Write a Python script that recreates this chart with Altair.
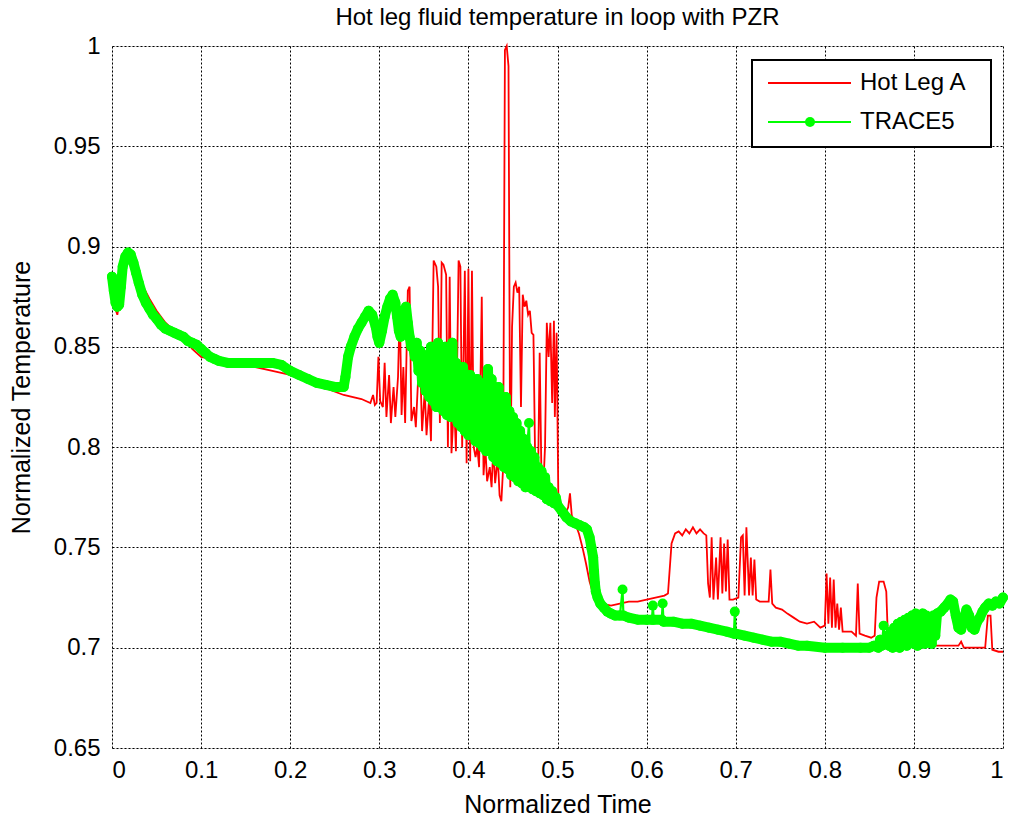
import altair as alt
import pandas as pd

# ---------------- data ----------------
red_t = [0.000, 0.003, 0.006, 0.009, 0.012, 0.016, 0.022, 0.028, 0.035, 0.042,
         0.050, 0.060, 0.070, 0.080, 0.090, 0.100, 0.120, 0.150, 0.180, 0.200,
         0.230, 0.260, 0.280, 0.290, 0.293, 0.295, 0.297, 0.299, 0.301, 0.304,
         0.306, 0.308, 0.311, 0.313, 0.316, 0.318, 0.321, 0.323, 0.325, 0.327,
         0.329, 0.332, 0.334, 0.336, 0.339, 0.341, 0.344, 0.346, 0.348, 0.351,
         0.353, 0.356, 0.358, 0.361, 0.364, 0.366, 0.368, 0.370, 0.372, 0.375,
         0.377, 0.379, 0.381, 0.384, 0.386, 0.389, 0.391, 0.393, 0.396, 0.398,
         0.400, 0.402, 0.404, 0.406, 0.408, 0.410, 0.412, 0.415, 0.417, 0.419,
         0.421, 0.424, 0.426, 0.428, 0.430, 0.433, 0.435, 0.437, 0.439, 0.441,
         0.443, 0.445, 0.447, 0.449, 0.451, 0.453, 0.455, 0.457, 0.459, 0.461,
         0.463, 0.465, 0.467, 0.469, 0.471, 0.473, 0.475, 0.478, 0.480, 0.482,
         0.484, 0.486, 0.488, 0.490, 0.492, 0.494, 0.496, 0.497, 0.499, 0.501,
         0.503, 0.508, 0.512, 0.514, 0.516, 0.520, 0.524, 0.528, 0.532, 0.536,
         0.540, 0.545, 0.550, 0.560, 0.570, 0.580, 0.590, 0.600, 0.610, 0.620,
         0.624, 0.628, 0.632, 0.636, 0.640, 0.644, 0.648, 0.652, 0.656, 0.660,
         0.664, 0.667, 0.669, 0.671, 0.673, 0.675, 0.678, 0.680, 0.683, 0.685,
         0.687, 0.689, 0.691, 0.693, 0.697, 0.703, 0.706, 0.708, 0.710, 0.712,
         0.715, 0.717, 0.719, 0.721, 0.723, 0.727, 0.733, 0.737, 0.739, 0.741,
         0.745, 0.752, 0.758, 0.765, 0.772, 0.780, 0.788, 0.795, 0.800, 0.802,
         0.804, 0.806, 0.808, 0.810, 0.812, 0.814, 0.816, 0.818, 0.820, 0.830,
         0.835, 0.837, 0.839, 0.845, 0.852, 0.856, 0.858, 0.861, 0.866, 0.869,
         0.871, 0.880, 0.900, 0.920, 0.950, 0.953, 0.956, 0.970, 0.980, 0.983,
         0.986, 0.988, 0.995, 1.000]
red_T = [0.880, 0.870, 0.866, 0.875, 0.895, 0.898, 0.896, 0.888, 0.880, 0.874,
         0.868, 0.862, 0.858, 0.855, 0.849, 0.845, 0.843, 0.841, 0.838, 0.836,
         0.831, 0.826, 0.824, 0.822, 0.826, 0.821, 0.822, 0.845, 0.823, 0.820,
         0.842, 0.815, 0.836, 0.812, 0.830, 0.815, 0.835, 0.870, 0.816, 0.840,
         0.812, 0.878, 0.880, 0.813, 0.820, 0.810, 0.838, 0.840, 0.808, 0.828,
         0.806, 0.825, 0.803, 0.893, 0.890, 0.880, 0.812, 0.892, 0.891, 0.886,
         0.800, 0.885, 0.797, 0.822, 0.798, 0.893, 0.890, 0.800, 0.888, 0.792,
         0.889, 0.793, 0.888, 0.800, 0.795, 0.800, 0.790, 0.875, 0.786, 0.800,
         0.783, 0.790, 0.780, 0.800, 0.782, 0.795, 0.776, 0.773, 0.790, 0.998,
         1.000, 0.990, 0.780, 0.860, 0.880, 0.882, 0.877, 0.880, 0.820, 0.876,
         0.870, 0.873, 0.866, 0.868, 0.857, 0.856, 0.790, 0.780, 0.847, 0.785,
         0.780, 0.800, 0.862, 0.845, 0.862, 0.822, 0.863, 0.815, 0.857, 0.772,
         0.768, 0.766, 0.770, 0.777, 0.766, 0.762, 0.757, 0.750, 0.742, 0.733,
         0.727, 0.723, 0.722, 0.721, 0.722, 0.723, 0.723, 0.724, 0.725, 0.726,
         0.727, 0.752, 0.757, 0.758, 0.756, 0.759, 0.757, 0.760, 0.757, 0.759,
         0.757, 0.756, 0.732, 0.725, 0.755, 0.724, 0.745, 0.724, 0.755, 0.727,
         0.752, 0.728, 0.754, 0.724, 0.724, 0.725, 0.755, 0.756, 0.726, 0.760,
         0.726, 0.745, 0.726, 0.744, 0.724, 0.723, 0.723, 0.723, 0.739, 0.722,
         0.720, 0.719, 0.717, 0.715, 0.713, 0.712, 0.713, 0.710, 0.711, 0.737,
         0.712, 0.735, 0.710, 0.734, 0.710, 0.722, 0.709, 0.720, 0.708, 0.708,
         0.706, 0.732, 0.707, 0.706, 0.705, 0.706, 0.725, 0.733, 0.733, 0.728,
         0.703, 0.702, 0.701, 0.701, 0.701, 0.703, 0.700, 0.700, 0.700, 0.716,
         0.716, 0.699, 0.698, 0.698]

green_t = [0.000, 0.002, 0.004, 0.006, 0.008, 0.010, 0.012, 0.015, 0.018, 0.021,
           0.024, 0.027, 0.030, 0.034, 0.038, 0.042, 0.046, 0.050, 0.055, 0.060,
           0.065, 0.070, 0.075, 0.080, 0.085, 0.090, 0.095, 0.100, 0.105, 0.110,
           0.115, 0.120, 0.130, 0.140, 0.150, 0.160, 0.170, 0.180, 0.190, 0.200,
           0.210, 0.220, 0.230, 0.240, 0.250, 0.255, 0.260, 0.262, 0.265, 0.268,
           0.272, 0.276, 0.280, 0.284, 0.288, 0.292, 0.296, 0.298, 0.300, 0.303,
           0.306, 0.309, 0.312, 0.315, 0.318, 0.320, 0.322, 0.324, 0.326, 0.328,
           0.330, 0.332, 0.334, 0.336, 0.338, 0.340, 0.342, 0.344, 0.346, 0.348,
           0.350, 0.352, 0.354, 0.356, 0.358, 0.360, 0.362, 0.364, 0.366, 0.368,
           0.370, 0.372, 0.374, 0.376, 0.378, 0.380, 0.382, 0.384, 0.386, 0.388,
           0.390, 0.392, 0.394, 0.396, 0.398, 0.400, 0.402, 0.404, 0.406, 0.408,
           0.410, 0.412, 0.414, 0.416, 0.418, 0.420, 0.422, 0.424, 0.426, 0.428,
           0.430, 0.432, 0.434, 0.436, 0.438, 0.440, 0.442, 0.444, 0.446, 0.448,
           0.450, 0.452, 0.454, 0.456, 0.458, 0.460, 0.462, 0.464, 0.466, 0.468,
           0.469, 0.470, 0.472, 0.474, 0.476, 0.478, 0.480, 0.482, 0.484, 0.486,
           0.488, 0.490, 0.492, 0.494, 0.496, 0.498, 0.500, 0.505, 0.510, 0.515,
           0.520, 0.525, 0.530, 0.533, 0.536, 0.538, 0.540, 0.541, 0.542, 0.543,
           0.545, 0.548, 0.552, 0.556, 0.560, 0.565, 0.570, 0.573, 0.574, 0.580,
           0.590, 0.600, 0.606, 0.607, 0.608, 0.617, 0.618, 0.619, 0.630, 0.640,
           0.650, 0.660, 0.670, 0.680, 0.690, 0.698, 0.699, 0.700, 0.710, 0.720,
           0.730, 0.740, 0.750, 0.760, 0.770, 0.780, 0.800, 0.820, 0.840, 0.850,
           0.855, 0.860, 0.862, 0.864, 0.866, 0.868, 0.870, 0.872, 0.874, 0.876,
           0.878, 0.880, 0.882, 0.884, 0.886, 0.888, 0.890, 0.892, 0.894, 0.896,
           0.898, 0.900, 0.902, 0.904, 0.906, 0.908, 0.910, 0.912, 0.914, 0.916,
           0.918, 0.920, 0.922, 0.924, 0.926, 0.930, 0.934, 0.938, 0.941, 0.944,
           0.947, 0.950, 0.953, 0.956, 0.959, 0.962, 0.965, 0.968, 0.971, 0.974,
           0.977, 0.980, 0.984, 0.988, 0.992, 0.996, 1.000]
green_T = [0.885, 0.878, 0.872, 0.870, 0.871, 0.880, 0.890, 0.895, 0.897, 0.896,
           0.892, 0.887, 0.882, 0.876, 0.872, 0.869, 0.866, 0.864, 0.861, 0.859,
           0.858, 0.857, 0.856, 0.855, 0.853, 0.852, 0.851, 0.849, 0.847, 0.845,
           0.844, 0.843, 0.842, 0.842, 0.842, 0.842, 0.842, 0.842, 0.841, 0.838,
           0.836, 0.834, 0.832, 0.831, 0.830, 0.830, 0.830, 0.835, 0.845, 0.850,
           0.855, 0.859, 0.862, 0.865, 0.868, 0.866, 0.860, 0.855, 0.852, 0.858,
           0.865, 0.870, 0.874, 0.876, 0.872, 0.865, 0.858, 0.855, 0.860, 0.868,
           0.870, 0.862, 0.855, 0.850, 0.850, 0.845, 0.852, 0.838, 0.848, 0.832,
           0.846, 0.828, 0.842, 0.825, 0.850, 0.823, 0.840, 0.820, 0.852, 0.822,
           0.845, 0.818, 0.850, 0.816, 0.838, 0.815, 0.852, 0.818, 0.842, 0.812,
           0.836, 0.810, 0.840, 0.808, 0.832, 0.806, 0.836, 0.808, 0.830, 0.803,
           0.834, 0.802, 0.826, 0.800, 0.832, 0.798, 0.839, 0.800, 0.834, 0.795,
           0.826, 0.793, 0.830, 0.792, 0.822, 0.790, 0.825, 0.789, 0.818, 0.786,
           0.815, 0.785, 0.812, 0.783, 0.808, 0.782, 0.804, 0.780, 0.800, 0.812,
           0.796, 0.798, 0.779, 0.795, 0.778, 0.790, 0.777, 0.788, 0.776, 0.785,
           0.774, 0.780, 0.773, 0.778, 0.772, 0.775, 0.771, 0.768, 0.765, 0.763,
           0.762, 0.761, 0.760, 0.759, 0.755, 0.750, 0.745, 0.738, 0.732, 0.728,
           0.725, 0.722, 0.720, 0.718, 0.717, 0.716, 0.716, 0.729, 0.716, 0.715,
           0.714, 0.714, 0.714, 0.721, 0.714, 0.714, 0.722, 0.713, 0.713, 0.712,
           0.712, 0.711, 0.710, 0.709, 0.708, 0.707, 0.718, 0.707, 0.706, 0.705,
           0.704, 0.703, 0.703, 0.702, 0.701, 0.701, 0.700, 0.700, 0.700, 0.700,
           0.701, 0.700, 0.704, 0.701, 0.711, 0.702, 0.706, 0.701, 0.708, 0.700,
           0.710, 0.702, 0.712, 0.700, 0.713, 0.702, 0.714, 0.701, 0.715, 0.703,
           0.716, 0.702, 0.717, 0.701, 0.716, 0.703, 0.717, 0.702, 0.716, 0.704,
           0.715, 0.702, 0.716, 0.706, 0.717, 0.718, 0.720, 0.722, 0.724, 0.723,
           0.716, 0.710, 0.709, 0.714, 0.719, 0.716, 0.710, 0.709, 0.713, 0.715,
           0.718, 0.720, 0.722, 0.721, 0.723, 0.722, 0.725]
# isolated TRACE5 samples that stand off the main band on thin stems
green_stem_t = [0.468, 0.573, 0.607, 0.618, 0.699, 0.866]

x_ticks = [0, 0.1, 0.2, 0.3, 0.4, 0.5, 0.6, 0.7, 0.8, 0.9, 1]
y_ticks = [0.65, 0.7, 0.75, 0.8, 0.85, 0.9, 0.95, 1]
series_names = ["Hot Leg A", "TRACE5"]
series_colors = ["#ff0000", "#00ff00"]

# ---------------- chart ----------------
FONT = "Liberation Sans"
W, H = 891, 702

red_df = pd.DataFrame({"t": red_t, "T": red_T, "order": range(len(red_t))})
green_df = pd.DataFrame({"t": green_t, "T": green_T, "order": range(len(green_t))})
green_df["stem"] = green_df["t"].isin(green_stem_t)
band_df = green_df[~green_df["stem"]]

xs = alt.Scale(domain=[0, 1], nice=False, zero=False)
ys = alt.Scale(domain=[0.65, 1], nice=False, zero=False)

x_axis = alt.Axis(values=x_ticks, format="~g", title="Normalized Time",
                  grid=True, gridColor="black", gridDash=[2, 2], gridWidth=1,
                  gridOpacity=1, domain=False, ticks=False, labelPadding=10,
                  labelFontSize=24, labelFont=FONT, labelColor="black",
                  titleFont=FONT, titleFontSize=25, titleFontWeight="normal",
                  titleColor="black", titlePadding=10)
y_axis = alt.Axis(values=y_ticks, format="~g", title="Normalized Temperature",
                  grid=True, gridColor="black", gridDash=[2, 2], gridWidth=1,
                  gridOpacity=1, domain=False, ticks=False, labelPadding=12,
                  labelFontSize=24, labelFont=FONT, labelColor="black",
                  titleFont=FONT, titleFontSize=25, titleFontWeight="normal",
                  titleColor="black", titlePadding=19)

red_line = alt.Chart(red_df).mark_line(color=series_colors[0], strokeWidth=1.8).encode(
    x=alt.X("t:Q", scale=xs, axis=x_axis),
    y=alt.Y("T:Q", scale=ys, axis=y_axis),
    order="order:Q",
)

# dense TRACE5 markers merge into a solid band: drawn as a wide round-capped stroke
green_band = alt.Chart(band_df).mark_line(
    color=series_colors[1], strokeWidth=10, strokeCap="round", strokeJoin="round").encode(
    x=alt.X("t:Q", scale=xs),
    y=alt.Y("T:Q", scale=ys),
    order="order:Q",
)
green_line = alt.Chart(green_df).mark_line(color=series_colors[1], strokeWidth=2.2).encode(
    x=alt.X("t:Q", scale=xs),
    y=alt.Y("T:Q", scale=ys),
    order="order:Q",
)
green_pts = alt.Chart(green_df).mark_circle(color=series_colors[1], size=100, opacity=1).encode(
    x=alt.X("t:Q", scale=xs),
    y=alt.Y("T:Q", scale=ys),
)

# legend box (inside the top-right of the plot, as in the reference)
leg_df = pd.DataFrame({"name": series_names, "color": series_colors, "row": [0, 1]})
box = alt.Chart(pd.DataFrame({"a": [0]})).mark_rect(
    fill="white", stroke="black", strokeWidth=2).encode(
    x=alt.value(640), x2=alt.value(879), y=alt.value(14), y2=alt.value(101))
leg_red = alt.Chart(leg_df.iloc[[0]]).mark_rule(color=series_colors[0], strokeWidth=1.8).encode(
    x=alt.value(656), x2=alt.value(739), y=alt.value(37))
leg_green = alt.Chart(leg_df.iloc[[1]]).mark_rule(color=series_colors[1], strokeWidth=2.2).encode(
    x=alt.value(656), x2=alt.value(739), y=alt.value(76))
leg_dot = alt.Chart(leg_df.iloc[[1]]).mark_circle(color=series_colors[1], size=100, opacity=1).encode(
    x=alt.value(698), y=alt.value(76))
leg_text1 = alt.Chart(leg_df.iloc[[0]]).mark_text(
    align="left", baseline="middle", font=FONT, fontSize=24, color="black").encode(
    x=alt.value(748), y=alt.value(37), text="name:N")
leg_text2 = alt.Chart(leg_df.iloc[[1]]).mark_text(
    align="left", baseline="middle", font=FONT, fontSize=24, color="black").encode(
    x=alt.value(748), y=alt.value(76), text="name:N")

chart = alt.layer(
    red_line, green_band, green_line, green_pts,
    box, leg_red, leg_green, leg_dot, leg_text1, leg_text2
).properties(
    width=W, height=H,
    title=alt.Title("Hot leg fluid temperature in loop with PZR", font=FONT,
                    fontSize=24, fontWeight="normal", color="black",
                    anchor="middle", offset=4),
    padding={"left": 112, "top": 46, "right": 7, "bottom": 74},
    autosize=alt.AutoSizeParams(type="none"),
).configure_view(
    stroke="black", strokeWidth=2
).configure(background="white")

chart.save("out.html", embed_options={"renderer": "svg", "actions": False})
